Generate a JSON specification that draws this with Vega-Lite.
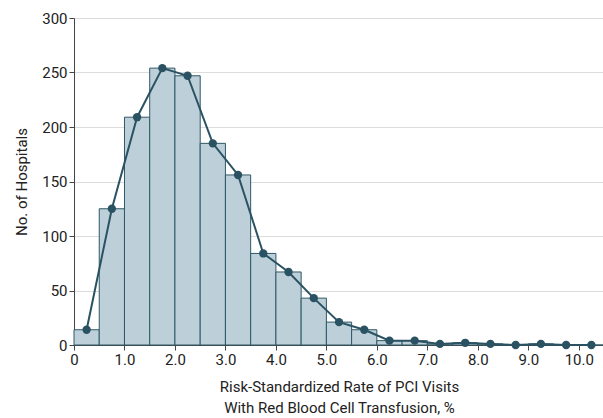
{
  "$schema": "https://vega.github.io/schema/vega-lite/v6.json",
  "width": 530,
  "height": 327,
  "autosize": {"type": "none"},
  "padding": {"left": 74, "top": 18, "right": 0, "bottom": 73},
  "background": "white",
  "config": {
    "view": {"stroke": null},
    "font": "Roboto, sans-serif",
    "axis": {
      "labelFont": "Roboto, sans-serif",
      "titleFont": "Roboto, sans-serif",
      "labelFontSize": 15,
      "titleFontSize": 15,
      "labelColor": "#222",
      "titleColor": "#222",
      "titleFontWeight": "normal",
      "domainColor": "#444",
      "tickColor": "#444",
      "tickSize": 5,
      "gridColor": "#dcdcdc"
    }
  },
  "data": {
    "values": [
      {"start": 0.0, "end": 0.5, "mid": 0.25, "count": 14},
      {"start": 0.5, "end": 1.0, "mid": 0.75, "count": 125},
      {"start": 1.0, "end": 1.5, "mid": 1.25, "count": 209},
      {"start": 1.5, "end": 2.0, "mid": 1.75, "count": 254},
      {"start": 2.0, "end": 2.5, "mid": 2.25, "count": 247},
      {"start": 2.5, "end": 3.0, "mid": 2.75, "count": 185},
      {"start": 3.0, "end": 3.5, "mid": 3.25, "count": 156},
      {"start": 3.5, "end": 4.0, "mid": 3.75, "count": 84},
      {"start": 4.0, "end": 4.5, "mid": 4.25, "count": 67},
      {"start": 4.5, "end": 5.0, "mid": 4.75, "count": 43},
      {"start": 5.0, "end": 5.5, "mid": 5.25, "count": 21},
      {"start": 5.5, "end": 6.0, "mid": 5.75, "count": 14},
      {"start": 6.0, "end": 6.5, "mid": 6.25, "count": 4},
      {"start": 6.5, "end": 7.0, "mid": 6.75, "count": 4},
      {"start": 7.0, "end": 7.5, "mid": 7.25, "count": 1},
      {"start": 7.5, "end": 8.0, "mid": 7.75, "count": 2},
      {"start": 8.0, "end": 8.5, "mid": 8.25, "count": 1},
      {"start": 8.5, "end": 9.0, "mid": 8.75, "count": 0},
      {"start": 9.0, "end": 9.5, "mid": 9.25, "count": 1},
      {"start": 9.5, "end": 10.0, "mid": 9.75, "count": 0},
      {"start": 10.0, "end": 10.5, "mid": 10.25, "count": 0}
    ]
  },
  "layer": [
    {
      "mark": {"type": "bar", "fill": "#bdd0da", "stroke": "#2e5866", "strokeWidth": 1},
      "encoding": {
        "x": {
          "field": "start", "type": "quantitative",
          "scale": {"domain": [0, 10.5], "nice": false, "zero": true},
          "axis": {
            "values": [0, 0.5, 1, 1.5, 2, 2.5, 3, 3.5, 4, 4.5, 5, 5.5, 6, 6.5, 7, 7.5, 8, 8.5, 9, 9.5, 10, 10.5],
            "labelExpr": "datum.value == 0 ? '0' : (datum.value % 1 == 0 ? format(datum.value, '.1f') : '')",
            "grid": false,
            "labelPadding": 2,
            "labelFlush": false,
            "labelOverlap": false,
            "title": ["Risk-Standardized Rate of PCI Visits", "With Red Blood Cell Transfusion, %"],
            "titlePadding": 12,
            "titleLineHeight": 21
          }
        },
        "x2": {"field": "end"},
        "y": {
          "field": "count", "type": "quantitative",
          "scale": {"domain": [0, 300], "nice": false},
          "axis": {
            "values": [0, 50, 100, 150, 200, 250, 300],
            "grid": true,
            "labelPadding": 2,
            "title": "No. of Hospitals",
            "titlePadding": 12
          }
        },
        "y2": {"datum": 0}
      }
    },
    {
      "mark": {"type": "line", "color": "#2a5262", "strokeWidth": 2},
      "encoding": {
        "x": {"field": "mid", "type": "quantitative"},
        "y": {"field": "count", "type": "quantitative"}
      }
    },
    {
      "mark": {"type": "point", "filled": true, "color": "#2a5262", "size": 70, "opacity": 1},
      "encoding": {
        "x": {"field": "mid", "type": "quantitative"},
        "y": {"field": "count", "type": "quantitative"}
      }
    }
  ]
}
